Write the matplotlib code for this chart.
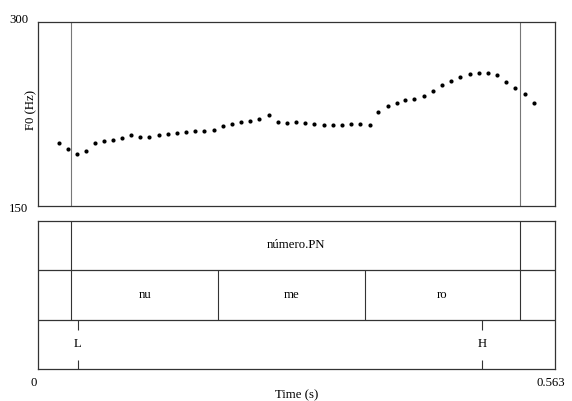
import matplotlib
matplotlib.use("Agg")
import matplotlib.pyplot as plt
from matplotlib.transforms import offset_copy

plt.rcParams['font.family'] = ['Liberation Serif', 'DejaVu Serif']

# pitch track (s, Hz)
times = [0.022, 0.032, 0.042, 0.052, 0.062, 0.072, 0.081, 0.091, 0.101, 0.111,
         0.121, 0.131, 0.141, 0.151, 0.161, 0.171, 0.181, 0.191, 0.201, 0.211,
         0.221, 0.231, 0.241, 0.251, 0.261, 0.271, 0.281, 0.291, 0.301, 0.311,
         0.321, 0.331, 0.341, 0.351, 0.361, 0.370, 0.381, 0.391, 0.400, 0.410,
         0.420, 0.430, 0.440, 0.450, 0.460, 0.470, 0.480, 0.490, 0.500, 0.510,
         0.520, 0.530, 0.540]
f0 = [201.3, 195.9, 191.8, 194.5, 200.8, 202.5, 203.8, 205.2, 207.9, 206.0,
      206.2, 207.6, 208.7, 209.3, 209.8, 210.7, 210.9, 211.5, 214.8, 216.9,
      218.0, 219.3, 220.5, 224.3, 218.0, 217.2, 218.0, 217.2, 216.6, 216.1,
      216.1, 216.1, 216.9, 216.6, 215.8, 226.5, 231.4, 233.8, 236.0, 237.4,
      239.8, 243.9, 248.6, 252.1, 254.9, 257.3, 258.7, 258.4, 256.5, 251.3,
      246.1, 241.5, 233.6]

t_end = 0.563
f0_min, f0_max = 150, 300

# tier 1: word
word_bounds = [0.036, 0.525]
word_labels = ["número.PN"]
# tier 2: syllables
syl_bounds = [0.036, 0.196, 0.356, 0.525]
syl_labels = ["nu", "me", "ro"]
# tier 3: tones
tone_times = [0.043, 0.484]
tone_labels = ["L", "H"]

fig = plt.figure(figsize=(5.72, 4.01), dpi=100)
fs = 9.2
frame = '#333333'

# --- pitch panel ---
ax = fig.add_axes([0.067, 0.4875, 0.903, 0.457])
ax.scatter(times, f0, s=9, color='black', linewidths=0, zorder=3)
for b in word_bounds:
    ax.axvline(b, color='#777777', lw=0.8)
ax.set_xlim(0, t_end)
ax.set_ylim(f0_min, f0_max)
ax.set_xticks([])
ax.set_yticks([])
for s in ax.spines.values():
    s.set_color(frame)
    s.set_linewidth(0.9)
ytr = ax.get_yaxis_transform()
ax.text(-0.02, f0_max, str(f0_max), transform=offset_copy(ytr, fig=fig, y=2, units='dots'),
        ha='right', va='center', fontsize=fs)
ax.text(-0.02, f0_min, str(f0_min), transform=offset_copy(ytr, fig=fig, y=-3, units='dots'),
        ha='right', va='center', fontsize=fs)
ax.text(-0.013, 0.52, "F0 (Hz)", transform=ax.transAxes, rotation=90,
        ha='center', va='center', fontsize=fs)

# --- annotation tiers ---
tx = fig.add_axes([0.067, 0.0798, 0.903, 0.3698])
tx.set_xlim(0, t_end)
tx.set_ylim(0, 3)
tx.set_xticks([])
tx.set_yticks([])
for s in tx.spines.values():
    s.set_color(frame)
    s.set_linewidth(0.9)
tx.axhline(1, color=frame, lw=0.9)
tx.axhline(2, color=frame, lw=0.9)

tx.vlines(word_bounds, 2, 3, color=frame, lw=0.8)
for i, lab in enumerate(word_labels):
    tx.text((word_bounds[i] + word_bounds[i + 1]) / 2, 2.5, lab,
            ha='center', va='center', fontsize=fs)

tx.vlines(syl_bounds, 1, 2, color=frame, lw=0.8)
for i, lab in enumerate(syl_labels):
    tx.text((syl_bounds[i] + syl_bounds[i + 1]) / 2, 1.5, lab,
            ha='center', va='center', fontsize=fs)

# point tier: short ticks at top and bottom of the interval
for t, lab in zip(tone_times, tone_labels):
    tx.vlines(t, 0.79, 1, color=frame, lw=0.8)
    tx.vlines(t, 0, 0.18, color=frame, lw=0.8)
    tx.text(t, 0.5, lab, ha='center', va='center', fontsize=fs)

tx.text(-0.009, -0.094, "0", transform=tx.transAxes,
        ha='center', va='center', fontsize=fs)
tx.text(0.992, -0.094, str(t_end), transform=tx.transAxes,
        ha='center', va='center', fontsize=fs)
tx.text(0.5, -0.175, "Time (s)", transform=tx.transAxes,
        ha='center', va='center', fontsize=fs)

fig.savefig("out.png", dpi=100)
